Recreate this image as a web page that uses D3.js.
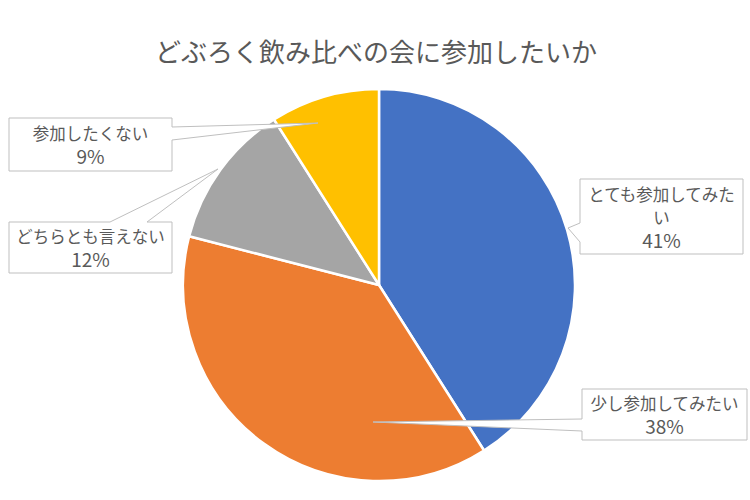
<!DOCTYPE html>
<html>
  <head>
    <meta charset="utf-8">
    <title></title>
  </head>
  <style>
  body{
    margin: 0;
    background: #fff;
    font-family: "Noto Sans CJK JP", "Noto Sans", sans-serif;
  }
  </style>
  <script src="https://d3js.org/d3.v7.min.js"></script>
  <body>
    <script>
    // data
    const categories = ["とても参加してみたい", "少し参加してみたい", "どちらとも言えない", "参加したくない"]
    const values = [41, 38, 12, 9]
    const colors = ["#4472C4", "#ED7D31", "#A5A5A5", "#FFC000"]
    // label text lines (as wrapped in the chart)
    const labelLines = [
      ["とても参加してみた", "い", "41%"],
      ["少し参加してみたい", "38%"],
      ["どちらとも言えない", "12%"],
      ["参加したくない", "9%"]
    ]

    var width = 750, height = 500
    var cx = 379, cy = 285, radius = 196

    var svg = d3.select("body")
                .append("svg")
                .attr("width", width)
                .attr("height", height)

    svg.append("text")
       .attr("x", 376)
       .attr("y", 50)
       .attr("text-anchor", "middle")
       .attr("dominant-baseline", "central")
       .attr("font-size", 26)
       .attr("fill", "#595959")
       .text("どぶろく飲み比べの会に参加したいか")

    var pie = d3.pie().sort(null).value(function(d){ return d })
    var arc = d3.arc().innerRadius(0).outerRadius(radius)
    var arcs = pie(values)

    var g = svg.append("g").attr("transform", "translate(" + cx + "," + cy + ")")

    g.selectAll("path")
     .data(arcs)
     .enter()
     .append("path")
     .attr("d", arc)
     .attr("fill", function(d, i){ return colors[i] })
     .attr("stroke", "#fff")
     .attr("stroke-width", 2.5)
     .attr("stroke-linejoin", "round")

    // callout boxes: box rect, wedge side + base, tip point (tip given relative to pie centre)
    var callouts = [
      {x0: 580, y0: 179, x1: 743, y1: 254, side: "left",  b0: 223, b1: 242, tip: [189, -57]},
      {x0: 582, y0: 389, x1: 747, y1: 440, side: "left",  b0: 419, b1: 431, tip: [-6, 137]},
      {x0: 9,   y0: 222, x1: 172, y1: 273, side: "top",   b0: 110, b1: 147, tip: [-161, -116]},
      {x0: 9,   y0: 118, x1: 172, y1: 171, side: "right", b0: 127, b1: 140, tip: [-61, -162]}
    ]

    function calloutPath(c){
      var tx = cx + c.tip[0], ty = cy + c.tip[1]
      var p = d3.path()
      if (c.side == "left") {
        p.moveTo(c.x0, c.y0); p.lineTo(c.x1, c.y0); p.lineTo(c.x1, c.y1); p.lineTo(c.x0, c.y1)
        p.lineTo(c.x0, c.b1); p.lineTo(tx, ty); p.lineTo(c.x0, c.b0)
      } else if (c.side == "right") {
        p.moveTo(c.x0, c.y0); p.lineTo(c.x1, c.y0); p.lineTo(c.x1, c.b0); p.lineTo(tx, ty)
        p.lineTo(c.x1, c.b1); p.lineTo(c.x1, c.y1); p.lineTo(c.x0, c.y1)
      } else {
        p.moveTo(c.x0, c.y0); p.lineTo(c.b0, c.y0); p.lineTo(tx, ty); p.lineTo(c.b1, c.y0)
        p.lineTo(c.x1, c.y0); p.lineTo(c.x1, c.y1); p.lineTo(c.x0, c.y1)
      }
      p.closePath()
      return p.toString()
    }

    var labels = svg.append("g")

    labels.selectAll("path")
          .data(callouts)
          .enter()
          .append("path")
          .attr("d", calloutPath)
          .attr("fill", "#fff")
          .attr("stroke", "#bfbfbf")
          .attr("stroke-width", 1)

    var lineH = 22.5
    callouts.forEach(function(c, i){
      var lines = labelLines[i]
      var mid = (c.x0 + c.x1) / 2
      var startY = (c.y0 + c.y1) / 2 - (lines.length - 1) * lineH / 2
      labels.append("text")
            .attr("text-anchor", "middle")
            .attr("fill", "#595959")
            .selectAll("tspan")
            .data(lines)
            .enter()
            .append("tspan")
            .attr("x", mid)
            .attr("y", function(d, j){ return startY + j * lineH })
            .attr("dominant-baseline", "central")
            .attr("font-size", function(d){ return d.indexOf("%") >= 0 ? 19 : 16.5 })
            .text(function(d){ return d })
    })

    </script>
  </body>
</html>
